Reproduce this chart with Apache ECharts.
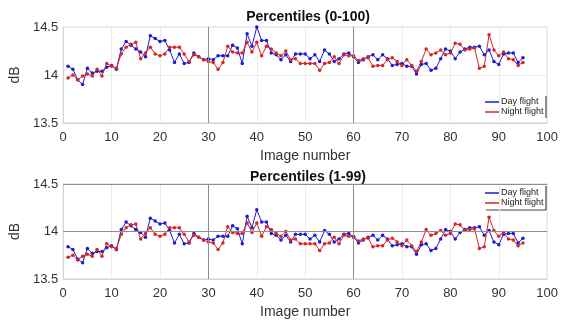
<!DOCTYPE html>
<html>
<head>
<meta charset="utf-8">
<title>Percentiles</title>
<script src="https://cdn.jsdelivr.net/npm/echarts@6.0.0/dist/echarts.min.js"></script>
<style>
  html, body { margin: 0; padding: 0; background: #fff; }
  #main { width: 561px; height: 320px; }
</style>
</head>
<body>
<div id="main"></div>
<script type="text/javascript">
// x values: image number 1..95
var imageNo = [];
for (var k = 1; k <= 95; k++) imageNo.push(k);

var xTicks = [0, 10, 20, 30, 40, 50, 60, 70, 80, 90, 100];
var yTicks = [13.5, 14, 14.5];

// Percentiles (0-100)
var dayFull = [
  14.09, 14.06, 13.95, 13.90, 14.07, 14.02, 14.04, 14.04, 14.08, 14.10,
  14.06, 14.27, 14.35, 14.31, 14.27, 14.24, 14.19, 14.41, 14.38, 14.35,
  14.36, 14.26, 14.13, 14.22, 14.12, 14.13, 14.23, 14.19, 14.16, 14.17,
  14.16, 14.20, 14.20, 14.20, 14.31, 14.28, 14.12, 14.43, 14.30, 14.50,
  14.36, 14.36, 14.23, 14.21, 14.16, 14.21, 14.14, 14.22, 14.22, 14.22,
  14.17, 14.21, 14.14, 14.26, 14.22, 14.14, 14.17, 14.22, 14.23, 14.19,
  14.13, 14.16, 14.19, 14.21, 14.16, 14.21, 14.17, 14.10, 14.11, 14.12,
  14.09, 14.09, 14.01, 14.11, 14.12, 14.05, 14.07, 14.17, 14.27, 14.25,
  14.17, 14.24, 14.27, 14.29, 14.29, 14.30, 14.21, 14.26, 14.14, 14.11,
  14.22, 14.23, 14.23, 14.13, 14.18
];
var nightFull = [
  13.97, 14.00, 13.95, 13.99, 14.01, 13.99, 14.06, 13.99, 14.12, 14.09,
  14.07, 14.22, 14.29, 14.32, 14.34, 14.17, 14.23, 14.29, 14.22, 14.20,
  14.22, 14.29, 14.29, 14.29, 14.22, 14.14, 14.21, 14.19, 14.16, 14.14,
  14.13, 14.06, 14.13, 14.30, 14.24, 14.23, 14.23, 14.34, 14.24, 14.34,
  14.20, 14.30, 14.27, 14.23, 14.20, 14.25, 14.16, 14.17, 14.12, 14.12,
  14.12, 14.12, 14.05, 14.12, 14.13, 14.19, 14.12, 14.21, 14.20, 14.20,
  14.15, 14.17, 14.18, 14.09, 14.10, 14.10, 14.16, 14.18, 14.14, 14.10,
  14.16, 14.10, 14.04, 14.14, 14.27, 14.21, 14.23, 14.26, 14.21, 14.23,
  14.33, 14.32, 14.26, 14.27, 14.28, 14.07, 14.09, 14.42, 14.26, 14.20,
  14.24, 14.17, 14.16, 14.10, 14.13
];

// Percentiles (1-99)
var dayTrim = [
  13.84, 13.81, 13.71, 13.67, 13.82, 13.77, 13.79, 13.79, 13.83, 13.85,
  13.81, 14.02, 14.10, 14.06, 14.02, 13.99, 13.94, 14.14, 14.11, 14.08,
  14.09, 14.01, 13.88, 13.97, 13.87, 13.88, 13.98, 13.94, 13.91, 13.92,
  13.91, 13.95, 13.95, 13.95, 14.06, 14.03, 13.87, 14.16, 14.04, 14.23,
  14.10, 14.10, 13.98, 13.96, 13.91, 13.96, 13.89, 13.97, 13.97, 13.97,
  13.92, 13.96, 13.89, 14.01, 13.97, 13.89, 13.92, 13.97, 13.98, 13.94,
  13.88, 13.91, 13.94, 13.96, 13.91, 13.96, 13.92, 13.85, 13.86, 13.87,
  13.84, 13.84, 13.76, 13.86, 13.87, 13.80, 13.82, 13.92, 14.02, 14.00,
  13.92, 13.99, 14.02, 14.04, 14.04, 14.05, 13.96, 14.01, 13.89, 13.86,
  13.97, 13.98, 13.98, 13.88, 13.93
];
var nightTrim = [
  13.73, 13.75, 13.70, 13.74, 13.76, 13.74, 13.81, 13.74, 13.87, 13.84,
  13.82, 13.97, 14.04, 14.07, 14.08, 13.92, 13.98, 14.04, 13.97, 13.95,
  13.97, 14.04, 14.04, 14.04, 13.97, 13.89, 13.96, 13.94, 13.91, 13.89,
  13.88, 13.81, 13.88, 14.05, 13.99, 13.98, 13.98, 14.09, 13.99, 14.09,
  13.95, 14.05, 14.02, 13.98, 13.95, 14.00, 13.91, 13.92, 13.87, 13.87,
  13.87, 13.87, 13.80, 13.87, 13.88, 13.94, 13.87, 13.96, 13.95, 13.95,
  13.90, 13.92, 13.93, 13.84, 13.85, 13.85, 13.91, 13.93, 13.89, 13.85,
  13.91, 13.85, 13.79, 13.89, 14.02, 13.96, 13.98, 14.01, 13.96, 13.98,
  14.08, 14.07, 14.01, 14.02, 14.03, 13.82, 13.84, 14.15, 14.01, 13.95,
  13.99, 13.92, 13.91, 13.85, 13.88
];

var dayColor = '#1c1cd0';
var nightColor = '#d92424';
var fontName = '"Liberation Sans", Arial, sans-serif';

function pairs(vals) {
  var out = [];
  for (var i = 0; i < vals.length; i++) out.push([imageNo[i], vals[i]]);
  return out;
}

function xAx(gi) {
  return {
    type: 'value', gridIndex: gi,
    min: xTicks[0], max: xTicks[xTicks.length - 1], interval: 10,
    name: 'Image number', nameLocation: 'middle', nameGap: 26,
    nameTextStyle: { fontFamily: fontName, fontSize: 14, color: '#333' },
    axisLine: { show: true, lineStyle: { color: '#d4d4d4' } },
    axisTick: { show: false },
    axisLabel: { margin: 8, fontFamily: fontName, fontSize: 13, color: '#333' },
    splitLine: { show: true, lineStyle: { color: '#ececec', width: 1 } }
  };
}
function yAx(gi) {
  return {
    type: 'value', gridIndex: gi,
    min: yTicks[0], max: yTicks[yTicks.length - 1], interval: 0.5,
    name: 'dB', nameLocation: 'middle', nameGap: 26,
    nameTextStyle: { fontFamily: fontName, fontSize: 14, color: '#333' },
    axisLine: { show: true, lineStyle: { color: '#d4d4d4' } },
    axisTick: { show: false },
    axisLabel: { margin: 5, fontFamily: fontName, fontSize: 13, color: '#333' },
    splitLine: { show: true, lineStyle: { color: '#ececec', width: 1 } }
  };
}
function lineSeries(name, color, vals, gi, marks) {
  var s = {
    name: name, type: 'line', xAxisIndex: gi, yAxisIndex: gi,
    data: pairs(vals),
    symbol: 'circle', symbolSize: 3.5,
    itemStyle: { color: color },
    lineStyle: { color: color, width: 1 },
    animation: false
  };
  if (marks) {
    s.markLine = {
      silent: true, symbol: 'none', label: { show: false },
      lineStyle: { color: '#8e8e8e', type: 'solid', width: 1 },
      data: marks
    };
  }
  return s;
}

var myChart = echarts.init(document.getElementById('main'));
var legendBase = {
  orient: 'vertical', left: 483, itemWidth: 14, itemHeight: 1.5, itemGap: 0,
  icon: 'rect', padding: [1, 2, 1, 2],
  textStyle: { fontFamily: fontName, fontSize: 9, color: '#222', padding: [0, 0, 0, -3], lineHeight: 10 },
  data: ['Day flight', 'Night flight']
};
var option = {
  backgroundColor: '#fff',
  animation: false,
  title: [
    { text: 'Percentiles (0-100)', left: 303, top: 5, textAlign: 'center',
      textStyle: { fontFamily: fontName, fontSize: 14, fontWeight: 'bold', color: '#111' } },
    { text: 'Percentiles (1-99)', left: 303, top: 165, textAlign: 'center',
      textStyle: { fontFamily: fontName, fontSize: 14, fontWeight: 'bold', color: '#111' } }
  ],
  legend: [
    Object.assign({}, legendBase, { top: 96 }),
    Object.assign({}, legendBase, { top: 187 })
  ],
  grid: [
    { left: 56, right: 11, top: 27, height: 96, show: true, borderColor: '#d4d4d4', borderWidth: 1 },
    { left: 56, right: 11, top: 184, height: 98, show: true, borderColor: '#d4d4d4', borderWidth: 1 }
  ],
  xAxis: [xAx(0), xAx(1)],
  yAxis: [yAx(0), yAx(1)],
  series: [
    lineSeries('Day flight', dayColor, dayFull, 0, [{ xAxis: 30 }, { xAxis: 60 }]),
    lineSeries('Night flight', nightColor, nightFull, 0),
    lineSeries('Day flight', dayColor, dayTrim, 1, [{ xAxis: 30 }, { xAxis: 60 }, { yAxis: 14 }, { yAxis: 14.5 }]),
    lineSeries('Night flight', nightColor, nightTrim, 1)
  ],
  graphic: [
    { type: 'line', shape: { x1: 546, y1: 96, x2: 546, y2: 118 }, style: { stroke: '#222', lineWidth: 1 } },
    { type: 'line', shape: { x1: 546, y1: 186, x2: 546, y2: 210 }, style: { stroke: '#222', lineWidth: 1 } },
    { type: 'line', shape: { x1: 486, y1: 210, x2: 546, y2: 210 }, style: { stroke: '#444', lineWidth: 1 } }
  ]
};
myChart.setOption(option);
</script>
</body>
</html>
